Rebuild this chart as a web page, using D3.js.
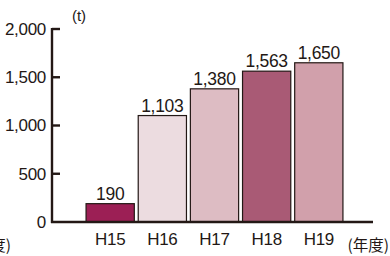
<!DOCTYPE html>
<html><head><meta charset="utf-8">
<script src="https://cdn.jsdelivr.net/npm/d3@7"></script>
<style>body{margin:0;background:#fff}svg{display:block}</style>
</head><body>
<svg id="c" width="390" height="256"></svg>
<script>
const categories = ["H15","H16","H17","H18","H19"];
const values = [190,1103,1380,1563,1650];
const colors = ["#9c1f55","#ecdce0","#ddbcc3","#a95a75","#d1a0ab"];
const yTicks = [0,500,1000,1500,2000];
const unitLabel = "(t)";
const xUnitLabel = "(年度)";

const svg = d3.select("#c");
const font = "'Liberation Sans', Arial, Helvetica, sans-serif";
const ink = "#231815";

const x = d3.scaleBand().domain(categories).range([84.5, 344.5]).paddingInner(0.075).paddingOuter(0.03);
const y = d3.scaleLinear().domain([0,2000]).range([222, 29]);

// bars
svg.selectAll("rect.bar").data(values).join("rect")
  .attr("class","bar")
  .attr("x",(d,i)=>x(categories[i]))
  .attr("width",x.bandwidth())
  .attr("y",d=>y(d))
  .attr("height",d=>y(0)-y(d))
  .attr("fill",(d,i)=>colors[i])
  .attr("stroke",ink).attr("stroke-width",1.2);

// value labels
svg.selectAll("text.val").data(values).join("text")
  .attr("class","val")
  .attr("x",(d,i)=>x(categories[i])+x.bandwidth()/2)
  .attr("y",d=>y(d)-4)
  .attr("text-anchor","middle")
  .attr("font-family",font).attr("font-size",17.5).attr("letter-spacing",-0.3).attr("fill",ink)
  .text(d=>d3.format(",")(d));

// y axis
const yAxis = d3.axisLeft(y).tickValues(yTicks).tickFormat(d3.format(",")).tickSize(0).tickPadding(6);
const gy = svg.append("g").attr("transform","translate(52,0)").call(yAxis);
gy.select(".domain").remove();
gy.selectAll("text").attr("font-family",font).attr("font-size",17).attr("letter-spacing",-0.3).attr("fill",ink);
svg.append("line").attr("x1",52).attr("x2",52).attr("y1",y(2000)-1).attr("y2",y(0)+1)
  .attr("stroke",ink).attr("stroke-width",2.4);
svg.selectAll("line.tk").data(yTicks.filter(d=>d>0)).join("line").attr("class","tk")
  .attr("x1",52).attr("x2",60).attr("y1",d=>y(d)).attr("y2",d=>y(d))
  .attr("stroke",ink).attr("stroke-width",2.4);

// x axis
const xAxis = d3.axisBottom(x).tickSize(0).tickPadding(11);
const gx = svg.append("g").attr("transform",`translate(0,${y(0)})`).call(xAxis);
gx.select(".domain").remove();
gx.selectAll("text").attr("font-family",font).attr("font-size",17).attr("letter-spacing",-0.3).attr("fill",ink);
svg.append("line").attr("x1",51).attr("x2",373).attr("y1",y(0)).attr("y2",y(0))
  .attr("stroke",ink).attr("stroke-width",2.4);

// unit labels
svg.append("text").attr("x",79).attr("y",21).attr("text-anchor","middle")
  .attr("font-family",font).attr("font-size",15).attr("fill",ink).text(unitLabel);
svg.append("text").attr("x",389).attr("y",251).attr("text-anchor","end")
  .attr("font-family","'Noto Sans CJK JP', sans-serif").attr("font-size",15.5).attr("fill",ink).text(xUnitLabel);
svg.append("text").attr("x",11).attr("y",251).attr("text-anchor","end")
  .attr("font-family","'Noto Sans CJK JP', sans-serif").attr("font-size",15.5).attr("fill",ink).text(xUnitLabel);
</script>
</body></html>
